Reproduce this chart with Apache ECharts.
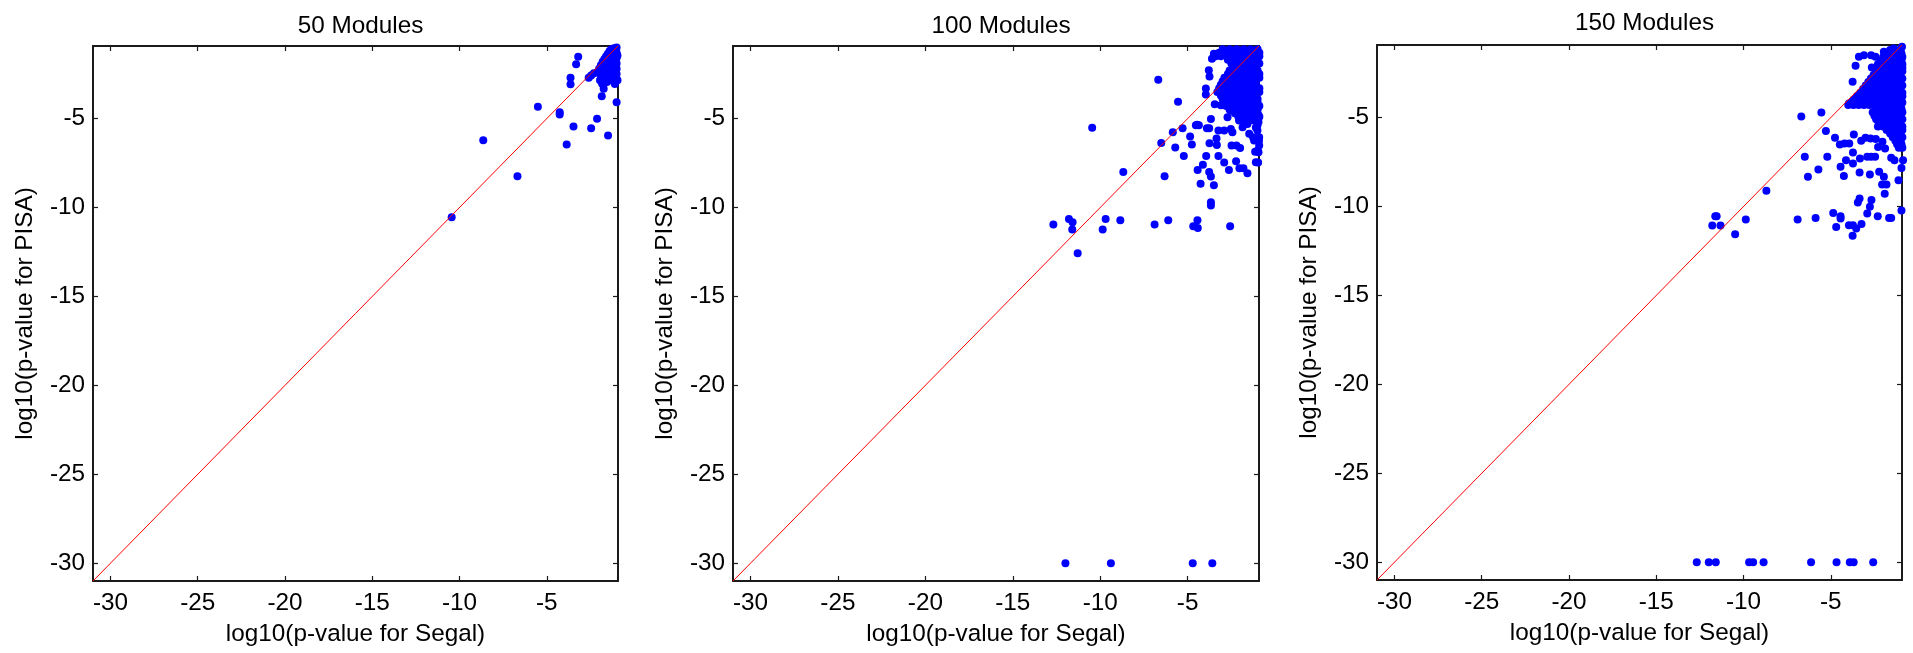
<!DOCTYPE html>
<html>
<head>
<meta charset="utf-8">
<script src="https://cdn.jsdelivr.net/npm/echarts@6/dist/echarts.min.js"></script>
<style>
html,body{margin:0;padding:0;background:#fff;}
#c{width:1913px;height:653px;}
</style>
</head>
<body>
<div id="c"></div>
<script>
// ---- data ----
const panelTitles = ['50 Modules', '100 Modules', '150 Modules'];
const xTicks = [-30, -25, -20, -15, -10, -5];
const yTicks = [-30, -25, -20, -15, -10, -5];
const axisMin = -31;
const axisMax = -0.92;
const xName = 'log10(p-value for Segal)';
const yName = 'log10(p-value for PISA)';

const p50 = [
  [-3.2,-1.53],[-3.32,-1.94],[-3.64,-2.71],[-3.64,-3.07],[-2.6,-2.71],[-2.46,-2.58],[-2.12,-2.39],
  [-1.83,-3.04],[-1.74,-3.33],[-1.85,-3.74],[-1.0,-4.08],[-5.51,-4.34],[-4.26,-4.64],[-4.26,-4.77],
  [-2.12,-5.01],[-3.47,-5.45],[-2.46,-5.54],[-1.49,-5.95],[-8.64,-6.22],[-3.86,-6.46],[-6.68,-8.24],
  [-10.45,-10.55],
  [-2.3,-2.45],[-2.0,-2.2],[-1.9,-2.0],[-1.8,-1.8],[-1.7,-1.65],[-1.6,-1.5],[-1.5,-1.35],[-1.4,-1.2],
  [-1.3,-1.1],[-1.15,-1.05],[-1.0,-1.0],
  [-1.8,-2.1],[-1.8,-2.4],[-1.8,-2.7],[-1.6,-1.8],[-1.6,-2.1],[-1.6,-2.4],[-1.6,-2.7],
  [-1.4,-1.5],[-1.4,-1.8],[-1.4,-2.1],[-1.4,-2.4],[-1.4,-2.7],
  [-1.2,-1.3],[-1.2,-1.6],[-1.2,-1.9],[-1.2,-2.2],[-1.2,-2.5],[-1.2,-2.8],
  [-1.0,-1.3],[-1.0,-1.6],[-1.0,-1.9],[-1.0,-2.2],[-1.0,-2.5],[-1.0,-2.8],
  [-1.9,-2.55],[-1.95,-2.85],[-1.7,-3.0],[-1.55,-2.95],[-1.1,-3.05],[-1.05,-1.15],
  [-1.3,-1.45],[-1.1,-1.45],[-0.95,-1.45],[-1.5,-1.65],[-1.3,-1.65],[-1.1,-1.65],
  [-1.7,-1.95],[-1.5,-1.95],[-1.3,-1.95],[-1.1,-1.95],
  [-1.9,-2.25],[-1.7,-2.25],[-1.5,-2.25],[-1.3,-2.25],[-1.1,-2.25],
  [-1.7,-2.55],[-1.5,-2.55],[-1.3,-2.55],[-1.1,-2.55],
  [-1.7,-2.85],[-1.5,-2.85],[-1.3,-2.85],[-1.1,-2.85],[-0.95,-2.85]
];

const p100 = [
  [-6.68,-2.82],[-5.55,-4.05],[-10.46,-5.52],[-3.75,-2.63],[-3.96,-3.65],[-3.67,-5.02],[-5.85,-5.77],
  [-5.29,-5.54],[-4.53,-5.37],[-4.36,-5.37],[-3.9,-5.54],[-3.77,-5.54],[-4.86,-6.01],[-4.76,-6.46],
  [-6.51,-6.37],[-5.71,-6.63],[-5.22,-7.1],[-3.35,-6.12],[-3.33,-6.48],[-3.75,-6.39],[-3.24,-5.67],
  [-2.91,-5.67],[-3.94,-7.1],[-3.24,-7.1],[-4.13,-7.59],[-4.43,-7.89],[-3.77,-8.0],[-3.67,-8.26],
  [-4.26,-8.66],[-3.5,-8.75],[-3.67,-9.71],[-3.67,-9.89],[-2.91,-7.47],[-2.64,-7.89],[-2.23,-7.4],
  [-2.04,-7.79],[-1.81,-7.79],[-1.58,-8.07],[-2.49,-6.52],[-2.21,-6.52],[-2.0,-6.65],[-1.14,-6.87],
  [-0.97,-7.47],[-8.68,-8.0],[-6.32,-8.24],[-11.29,-12.57],[-12.68,-10.96],[-11.79,-10.64],
  [-11.58,-10.83],[-11.6,-11.24],[-9.86,-11.24],[-9.69,-10.64],[-8.85,-10.72],[-6.89,-10.96],
  [-6.11,-10.72],[-4.68,-11.06],[-4.42,-11.15],[-4.44,-10.72],[-2.57,-11.06],
  [-1.48,-5.86],[-1.26,-6.05],[-1.01,-5.67],[-0.91,-6.05],[-0.91,-6.52],[-2.06,-5.11],[-1.86,-5.49],
  [-1.58,-5.3],[-1.2,-5.11],[-1.01,-5.39],[-2.53,-5.58],[-2.44,-5.77],[-2.72,-4.92],[-2.53,-4.55],
  [-2.34,-4.27],[-3.61,-1.64],[-3.5,-1.36],[-2.66,-1.17],[-3.79,-2.28],[-3.96,-3.31],[-4.46,-5.35],
  [-3.45,-4.2],[-3.1,-4.25],[-0.95,-4.8],[-0.95,-5.2],[-1.1,-5.5],[-0.95,-6.9],[-1.2,-4.9],[-1.5,-4.9],
  [-1.7,-5.05],[-0.92,-6.25],[-1.2,-6.24],[-1.0,-6.8],[-1.1,-7.45],
  [-3.0,-1.1],[-2.6,-1.1],[-2.2,-1.1],[-1.8,-1.1],[-1.4,-1.1],[-1.0,-1.1],
  [-3.4,-1.5],[-3.1,-1.5],[-2.7,-1.5],[-2.3,-1.5],[-1.9,-1.5],[-1.5,-1.5],[-1.1,-1.5],[-0.9,-1.5],
  [-2.5,-1.9],[-2.1,-1.9],[-1.7,-1.9],[-1.3,-1.9],[-0.9,-1.9],
  [-2.6,-2.3],[-2.2,-2.3],[-1.8,-2.3],[-1.4,-2.3],[-1.0,-2.3],
  [-2.9,-2.7],[-2.5,-2.7],[-2.1,-2.7],[-1.7,-2.7],[-1.3,-2.7],[-0.9,-2.7],
  [-3.1,-3.1],[-2.7,-3.1],[-2.3,-3.1],[-1.9,-3.1],[-1.5,-3.1],[-1.1,-3.1],
  [-3.3,-3.5],[-2.9,-3.5],[-2.5,-3.5],[-2.1,-3.5],[-1.7,-3.5],[-1.3,-3.5],[-0.9,-3.5],
  [-3.0,-3.9],[-2.6,-3.9],[-2.2,-3.9],[-1.8,-3.9],[-1.4,-3.9],[-1.0,-3.9],
  [-2.8,-4.3],[-2.4,-4.3],[-2.0,-4.3],[-1.6,-4.3],[-1.2,-4.3],[-0.9,-4.3],
  [-2.3,-4.7],[-1.9,-4.7],[-1.5,-4.7],[-1.1,-4.7],
  [-1.8,-5.1],[-1.4,-5.1],[-1.0,-5.1],
  [-3.2,-1.3],[-2.8,-1.3],[-2.4,-1.3],[-2.0,-1.3],[-1.6,-1.3],[-1.2,-1.3],[-0.9,-1.3],
  [-2.7,-1.7],[-2.3,-1.7],[-1.9,-1.7],[-1.5,-1.7],[-1.1,-1.7],
  [-2.3,-2.1],[-1.9,-2.1],[-1.5,-2.1],[-1.1,-2.1],
  [-2.7,-2.5],[-2.4,-2.5],[-2.0,-2.5],[-1.6,-2.5],[-1.2,-2.5],[-0.9,-2.5],
  [-3.0,-2.9],[-2.7,-2.9],[-2.3,-2.9],[-1.9,-2.9],[-1.5,-2.9],[-1.1,-2.9],
  [-3.2,-3.3],[-2.9,-3.3],[-2.5,-3.3],[-2.1,-3.3],[-1.7,-3.3],[-1.3,-3.3],[-0.9,-3.3],
  [-3.1,-3.7],[-2.7,-3.7],[-2.3,-3.7],[-1.9,-3.7],[-1.5,-3.7],[-1.1,-3.7],
  [-2.9,-4.1],[-2.6,-4.1],[-2.2,-4.1],[-1.8,-4.1],[-1.4,-4.1],[-1.0,-4.1],
  [-2.6,-4.5],[-2.2,-4.5],[-1.8,-4.5],[-1.4,-4.5],[-1.0,-4.5],
  [-2.1,-4.9],[-1.7,-4.9],[-1.3,-4.9],[-0.9,-4.9],
  [-11.99,-30],[-9.39,-30],[-4.71,-30],[-3.59,-30]
];

const p150 = [
  [-6.69,-4.94],[-5.54,-4.71],[-5.28,-5.76],[-4.76,-6.14],[-4.48,-6.51],[-4.21,-6.46],[-3.94,-6.46],
  [-3.68,-5.95],[-6.49,-7.21],[-5.2,-7.21],[-3.73,-6.96],[-3.73,-7.58],[-4.13,-7.4],[-3.33,-7.3],
  [-2.91,-7.21],[-2.69,-7.21],[-2.46,-7.21],[-3.26,-6.31],[-3.01,-6.14],[-2.72,-6.18],[-2.42,-6.21],
  [-2.04,-6.36],[-2.29,-6.65],[-1.89,-6.74],[-1.54,-7.26],[-1.35,-7.4],[-0.86,-7.4],[-0.95,-7.83],
  [-1.12,-8.52],[-5.71,-7.92],[-6.31,-8.33],[-4.44,-7.77],[-4.25,-8.28],[-3.35,-8.09],[-2.76,-8.2],
  [-2.23,-8.05],[-1.96,-8.33],[-2.06,-8.77],[-1.81,-8.77],[-1.91,-9.29],[-8.69,-9.12],[-3.45,-9.78],
  [-3.35,-9.55],[-2.67,-9.63],[-2.76,-10.02],[-2.91,-10.4],[-2.31,-10.55],[-1.66,-10.64],[-1.54,-10.64],
  [-0.95,-10.23],[-4.86,-10.36],[-4.44,-10.55],[-4.44,-10.68],[-4.69,-11.15],[-3.96,-11.05],
  [-3.73,-11.05],[-3.54,-11.24],[-3.24,-10.98],[-3.75,-11.65],[-5.87,-10.64],[-6.9,-10.73],
  [-9.87,-10.73],[-10.48,-11.56],[-11.62,-10.55],[-11.54,-10.55],[-11.79,-11.07],[-11.32,-11.07],
  [-3.75,-2.99],[-3.58,-2.09],[-3.39,-1.58],[-3.1,-1.49],[-2.69,-1.49],[-2.44,-1.58],[-2.65,-2.18],
  [-1.96,-1.3],[-1.39,-1.11],[-0.92,-1.02],[-3.96,-4.21],[-3.68,-4.02],[-3.3,-3.64],[-2.92,-3.46],
  [-1.6,-1.2],[-1.3,-1.2],[-1.0,-1.2],
  [-2.0,-1.6],[-1.7,-1.6],[-1.4,-1.6],[-1.1,-1.6],[-0.9,-1.6],
  [-2.3,-2.0],[-2.0,-2.0],[-1.7,-2.0],[-1.4,-2.0],[-1.1,-2.0],[-0.9,-2.0],
  [-2.4,-2.4],[-2.1,-2.4],[-1.8,-2.4],[-1.5,-2.4],[-1.2,-2.4],[-0.9,-2.4],
  [-2.7,-2.8],[-2.4,-2.8],[-2.1,-2.8],[-1.8,-2.8],[-1.5,-2.8],[-1.2,-2.8],[-0.9,-2.8],
  [-3.0,-3.2],[-2.7,-3.2],[-2.4,-3.2],[-2.1,-3.2],[-1.8,-3.2],[-1.5,-3.2],[-1.2,-3.2],[-0.9,-3.2],
  [-3.3,-3.6],[-3.0,-3.6],[-2.7,-3.6],[-2.4,-3.6],[-2.1,-3.6],[-1.8,-3.6],[-1.5,-3.6],[-1.2,-3.6],[-0.9,-3.6],
  [-3.7,-4.0],[-3.4,-4.0],[-3.1,-4.0],[-2.8,-4.0],[-2.5,-4.0],[-2.2,-4.0],[-1.9,-4.0],[-1.6,-4.0],[-1.3,-4.0],[-1.0,-4.0],
  [-4.0,-4.3],[-3.7,-4.3],[-3.4,-4.3],[-3.1,-4.3],[-2.8,-4.3],[-2.5,-4.3],[-2.2,-4.3],[-1.9,-4.3],[-1.6,-4.3],[-1.3,-4.3],[-1.0,-4.3],
  [-2.6,-4.7],[-2.3,-4.7],[-2.0,-4.7],[-1.7,-4.7],[-1.4,-4.7],[-1.1,-4.7],[-0.9,-4.7],
  [-2.4,-5.1],[-2.1,-5.1],[-1.8,-5.1],[-1.5,-5.1],[-1.2,-5.1],[-0.9,-5.1],
  [-2.3,-5.5],[-2.0,-5.5],[-1.7,-5.5],[-1.4,-5.5],[-1.1,-5.5],[-0.9,-5.5],
  [-1.6,-5.9],[-1.3,-5.9],[-1.0,-5.9],
  [-1.3,-6.3],[-1.0,-6.3],
  [-1.1,-6.7],[-0.9,-6.7],
  [-1.8,-1.4],[-1.5,-1.4],[-1.2,-1.4],[-0.95,-1.4],
  [-2.15,-1.8],[-1.85,-1.8],[-1.55,-1.8],[-1.25,-1.8],[-0.95,-1.8],
  [-2.35,-2.2],[-2.05,-2.2],[-1.75,-2.2],[-1.45,-2.2],[-1.15,-2.2],[-0.9,-2.2],
  [-2.55,-2.6],[-2.25,-2.6],[-1.95,-2.6],[-1.65,-2.6],[-1.35,-2.6],[-1.05,-2.6],
  [-2.85,-3.0],[-2.55,-3.0],[-2.25,-3.0],[-1.95,-3.0],[-1.65,-3.0],[-1.35,-3.0],[-1.05,-3.0],
  [-3.15,-3.4],[-2.85,-3.4],[-2.55,-3.4],[-2.25,-3.4],[-1.95,-3.4],[-1.65,-3.4],[-1.35,-3.4],[-1.05,-3.4],
  [-3.5,-3.8],[-3.2,-3.8],[-2.9,-3.8],[-2.6,-3.8],[-2.3,-3.8],[-2.0,-3.8],[-1.7,-3.8],[-1.4,-3.8],[-1.1,-3.8],[-0.9,-3.8],
  [-3.85,-4.15],[-3.55,-4.15],[-3.25,-4.15],[-2.95,-4.15],[-2.65,-4.15],[-2.35,-4.15],[-2.05,-4.15],[-1.75,-4.15],[-1.45,-4.15],[-1.15,-4.15],[-0.9,-4.15],
  [-2.45,-4.5],[-2.15,-4.5],[-1.85,-4.5],[-1.55,-4.5],[-1.25,-4.5],[-0.95,-4.5],
  [-2.5,-4.9],[-2.2,-4.9],[-1.9,-4.9],[-1.6,-4.9],[-1.3,-4.9],[-1.0,-4.9],
  [-2.25,-5.3],[-1.95,-5.3],[-1.65,-5.3],[-1.35,-5.3],[-1.05,-5.3],
  [-1.8,-5.7],[-1.5,-5.7],[-1.2,-5.7],[-0.9,-5.7],
  [-1.45,-6.1],[-1.15,-6.1],[-0.9,-6.1],
  [-1.2,-6.5],[-0.95,-6.5],
  [-12.68,-30],[-11.99,-30],[-11.59,-30],[-9.68,-30],[-9.45,-30],[-8.85,-30],[-6.13,-30],
  [-4.67,-30],[-3.91,-30],[-3.69,-30],[-2.57,-30]
];
const panelData = [p50, p100, p150];

// ---- layout ----
const grids = [
  {left: 93, top: 46, width: 525, height: 535},
  {left: 733, top: 46, width: 526, height: 535},
  {left: 1377, top: 45, width: 525, height: 535}
];
const titleTops = [9, 9, 6];
const FONT = 'Liberation Sans, Arial, Helvetica, sans-serif';
const FS = 24.3;
const AX = '#1a1a1a';

const option = {
  backgroundColor: '#fff',
  animation: false,
  title: [], grid: [], xAxis: [], yAxis: [], series: []
};

grids.forEach((g, i) => {
  option.grid.push(g);
  option.title.push({
    text: panelTitles[i],
    left: g.left + g.width / 2,
    top: titleTops[i],
    textAlign: 'center',
    textStyle: {fontFamily: FONT, fontSize: FS, fontWeight: 'normal', color: '#000'}
  });
  const common = {
    gridIndex: i, type: 'value', min: axisMin, max: axisMax,
    splitLine: {show: false},
    axisLine: {show: true, onZero: false, lineStyle: {color: AX, width: 2}}
  };
  option.xAxis.push(Object.assign({}, common, {
    position: 'bottom',
    axisTick: {show: true, inside: true, length: 5, customValues: xTicks, lineStyle: {color: AX, width: 1.2}},
    axisLabel: {show: true, customValues: xTicks, margin: 10, color: '#000', fontFamily: FONT, fontSize: FS},
    name: xName, nameLocation: 'middle', nameGap: 41,
    nameTextStyle: {color: '#000', fontFamily: FONT, fontSize: FS}
  }));
  option.xAxis.push(Object.assign({}, common, {
    position: 'top',
    axisTick: {show: true, inside: true, length: 5, customValues: xTicks, lineStyle: {color: AX, width: 1.2}},
    axisLabel: {show: false}
  }));
  option.yAxis.push(Object.assign({}, common, {
    position: 'left',
    axisTick: {show: true, inside: true, length: 5, customValues: yTicks, lineStyle: {color: AX, width: 1.2}},
    axisLabel: {show: true, customValues: yTicks, margin: 8, color: '#000', fontFamily: FONT, fontSize: FS},
    name: yName, nameLocation: 'middle', nameGap: 56,
    nameTextStyle: {color: '#000', fontFamily: FONT, fontSize: FS}
  }));
  option.yAxis.push(Object.assign({}, common, {
    position: 'right',
    axisTick: {show: true, inside: true, length: 5, customValues: yTicks, lineStyle: {color: AX, width: 1.2}},
    axisLabel: {show: false}
  }));

  option.series.push({
    type: 'scatter',
    xAxisIndex: i * 2, yAxisIndex: i * 2,
    data: panelData[i],
    symbol: 'circle',
    symbolSize: 8,
    clip: false,
    itemStyle: {color: '#0000ff', opacity: 1},
    emphasis: {disabled: true},
    z: 2
  });
  option.series.push({
    type: 'line',
    xAxisIndex: i * 2, yAxisIndex: i * 2,
    data: [[axisMin, axisMin], [axisMax, axisMax]],
    symbol: 'none',
    lineStyle: {color: '#ff0000', width: 1},
    emphasis: {disabled: true},
    z: 3
  });
});

const chart = echarts.init(document.getElementById('c'), null, {renderer: 'canvas'});
chart.setOption(option);
</script>
</body>
</html>
